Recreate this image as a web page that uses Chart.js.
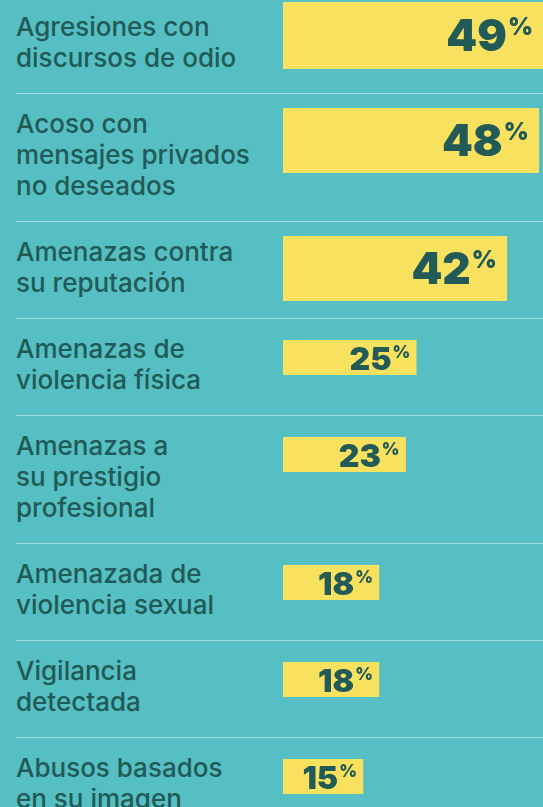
<!DOCTYPE html>
<html lang="es">
<head>
<meta charset="utf-8">
<script src="https://cdn.jsdelivr.net/npm/chart.js@4.4.1/dist/chart.umd.min.js"></script>
<style>
  html, body {
    margin: 0;
    padding: 0;
    background: #55bfc3;
    width: 543px;
    height: 807px;
    overflow: hidden;
  }
  .row {
    display: flex;
    align-items: flex-start;
    margin-left: 16px;
    padding: 14px 0 20px;
    border-bottom: 1px solid rgba(255, 255, 255, 0.45);
  }
  .row:first-child { padding-top: 11px; }
  .label {
    width: 267px;
    flex: none;
    font: 500 26px/31px Inter, "Noto Sans", sans-serif;
    color: #215a56;
    white-space: pre-line;
  }
  .bar { flex: none; width: 260px; height: 0; overflow: visible; }
  .bar canvas { display: block; }
  .bar.short { margin-top: 7px; }
  .row:first-child .bar { margin-top: -9px; }
</style>
</head>
<body>
<div id="chart"></div>
<script>
const categories = [
    'Agresiones con\ndiscursos de odio',
    'Acoso con\nmensajes privados\nno deseados',
    'Amenazas contra\nsu reputación',
    'Amenazas de\nviolencia física',
    'Amenazas a\nsu prestigio\nprofesional',
    'Amenazada de\nviolencia sexual',
    'Vigilancia\ndetectada',
    'Abusos basados\nen su imagen'
];
const values = [49, 48, 42, 25, 23, 18, 18, 15];

const xMax = 48.8;      // ancho de la columna de barras = 48.8 %
const destacados = 3;   // las tres primeras van en barra gruesa
const amarillo = '#f9e160';
const verde = '#215a56';

// cifra grande + "%" pequeño arriba, al final de la barra
const pctLabel = {
    id: 'pctLabel',
    afterDatasetsDraw(chart, args, opts) {
        const ctx = chart.ctx;
        const bar = chart.getDatasetMeta(0).data[0];
        const v = chart.data.datasets[0].data[0];
        const right = Math.min(bar.x, chart.chartArea.right) - opts.pad;
        ctx.save();
        ctx.fillStyle = verde;
        ctx.textAlign = 'right';
        ctx.textBaseline = 'alphabetic';
        ctx.font = `900 ${opts.pctSize}px Inter`;
        ctx.fillText('%', right, bar.y + opts.pctBase);
        const w = ctx.measureText('%').width;
        ctx.font = `900 ${opts.numSize}px Inter`;
        ctx.fillText(String(v), right - w - 1, bar.y + opts.numBase);
        ctx.restore();
    }
};

const cont = document.getElementById('chart');

categories.forEach((cat, i) => {
    const grande = i < destacados;
    const row = document.createElement('div');
    row.className = 'row';
    const label = document.createElement('div');
    label.className = 'label';
    label.textContent = cat;
    const barBox = document.createElement('div');
    barBox.className = 'bar ' + (grande ? 'tall' : 'short');
    const canvas = document.createElement('canvas');
    canvas.width = 260;
    canvas.height = grande ? (i === 0 ? 67 : 65) : 35;
    barBox.appendChild(canvas);
    row.appendChild(label);
    row.appendChild(barBox);
    cont.appendChild(row);

    new Chart(canvas, {
        type: 'bar',
        data: {
            labels: [cat],
            datasets: [{
                data: [values[i]],
                backgroundColor: amarillo,
                borderWidth: 0,
                barPercentage: 1,
                categoryPercentage: 1
            }]
        },
        options: {
            indexAxis: 'y',
            responsive: false,
            animation: false,
            events: [],
            layout: { padding: 0 },
            plugins: {
                legend: { display: false },
                tooltip: { enabled: false },
                pctLabel: grande
                    ? { pad: 10, numSize: 44, numBase: 15, pctSize: 24, pctBase: -0.5 }
                    : { pad: 6, numSize: 32, numBase: 12, pctSize: 17, pctBase: 0 }
            },
            scales: {
                x: { display: false, min: 0, max: xMax },
                y: { display: false }
            }
        },
        plugins: [pctLabel]
    });
});
</script>
</body>
</html>
